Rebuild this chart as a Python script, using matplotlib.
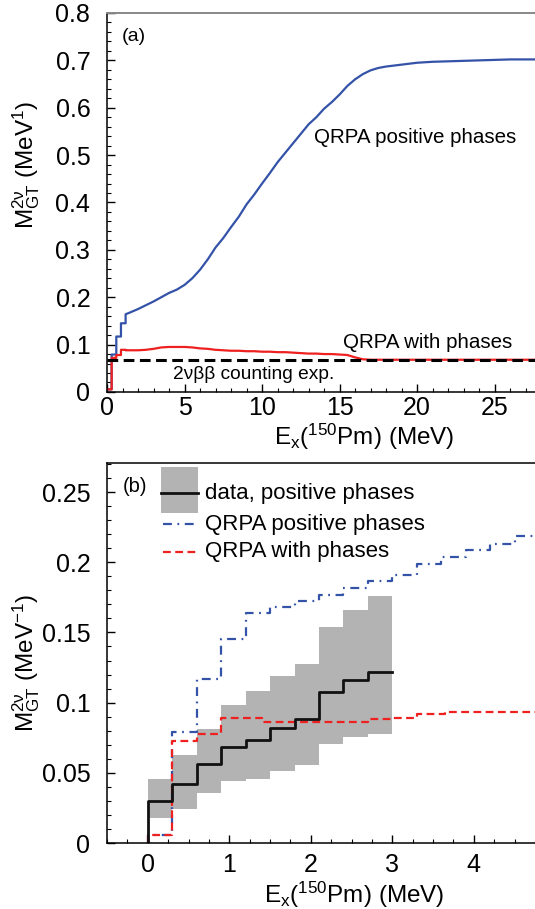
import matplotlib
matplotlib.use("Agg")
import matplotlib.pyplot as plt
from matplotlib.patches import Rectangle
from matplotlib.ticker import MultipleLocator, FuncFormatter
import numpy as np

plt.rcParams['font.family'] = ['Liberation Sans', 'DejaVu Sans']
plt.rcParams['mathtext.fontset'] = 'custom'
plt.rcParams['mathtext.rm'] = 'Liberation Sans'
plt.rcParams['mathtext.it'] = 'Liberation Sans'
plt.rcParams['mathtext.default'] = 'regular'

BLUE = '#3453a8'
RED = '#ee2020'
GREY = '#b3b3b3'

# ---- panel (a): running sum up to 27.5 MeV (jumps as repeated energies) ----
ea = [0, 0.3, 0.3, 0.6, 0.6, 0.9, 0.9, 1.2, 1.2, 1.5, 2, 2.5, 3, 3.5, 4, 4.5, 5,
      5.5, 6, 6.5, 7, 7.5, 8, 8.5, 9, 9.5, 10, 10.5, 11, 11.5, 12, 12.5, 13, 13.5,
      14, 14.5, 15, 15.5, 16, 16.5, 17, 17.5, 18, 19, 20, 21, 22, 23, 24, 25, 26, 27.6]
blue_a = [0.0055, 0.0055, 0.079, 0.079, 0.117, 0.117, 0.145, 0.145, 0.164, 0.168,
          0.175, 0.183, 0.191, 0.200, 0.209, 0.216, 0.226, 0.240, 0.258, 0.280,
          0.305, 0.325, 0.348, 0.370, 0.396, 0.417, 0.440, 0.462, 0.485, 0.505,
          0.525, 0.545, 0.565, 0.580, 0.598, 0.612, 0.628, 0.646, 0.660, 0.671,
          0.679, 0.684, 0.687, 0.691, 0.695, 0.697, 0.698, 0.699, 0.700, 0.701,
          0.702, 0.702]
red_a = [0.0055, 0.0055, 0.072, 0.072, 0.078, 0.078, 0.089, 0.089, 0.088, 0.088,
         0.088, 0.089, 0.091, 0.094, 0.095, 0.095, 0.095, 0.094, 0.092, 0.091,
         0.089, 0.088, 0.087, 0.087, 0.086, 0.086, 0.085, 0.085, 0.084, 0.084,
         0.083, 0.082, 0.081, 0.081, 0.080, 0.080, 0.079, 0.078, 0.073, 0.069,
         0.068, 0.068, 0.068, 0.068, 0.068, 0.068, 0.068, 0.068, 0.068, 0.068,
         0.068, 0.068]
counting_exp = 0.0675

# ---- panel (b): low-energy region ----
data_edges = [0, 0.3, 0.6, 0.9, 1.2, 1.5, 1.8, 2.1, 2.4, 2.7, 3.0]
data_val = [0.030, 0.0418, 0.056, 0.0686, 0.0736, 0.0817, 0.088, 0.1078, 0.116, 0.122]
data_lo = [0.018, 0.0242, 0.0358, 0.0441, 0.0456, 0.0515, 0.0558, 0.0705, 0.0757, 0.078]
data_hi = [0.0454, 0.0627, 0.081, 0.098, 0.108, 0.119, 0.1275, 0.154, 0.166, 0.176]

blue_edges = [0, 0.3, 0.6, 0.9, 1.2, 1.5, 1.8, 2.1, 2.4, 2.7, 3.0, 3.3, 3.6, 3.9, 4.2, 4.5, 4.8]
blue_b = [0.0055, 0.0788, 0.1166, 0.145, 0.1636, 0.168, 0.1726, 0.177, 0.182, 0.187,
          0.191, 0.199, 0.204, 0.2087, 0.213, 0.2187]
red_edges = [0, 0.3, 0.6, 0.9, 1.4, 2.7, 3.0, 3.3, 3.65, 4.8]
red_b = [0.0055, 0.0726, 0.0779, 0.089, 0.0864, 0.088, 0.089, 0.0919, 0.093]


def step_xy(edges, vals):
    x = np.r_[edges[0], edges]
    y = np.r_[0, vals, vals[-1]]
    return x, y


def style_axis(ax, top_color):
    for s in ['left', 'bottom']:
        ax.spines[s].set_linewidth(1.1)
    ax.spines['right'].set_visible(False)
    ax.spines['top'].set_color(top_color)
    ax.spines['top'].set_linewidth(1.4)
    ax.tick_params(which='both', direction='in', top=False, right=False, labelsize=18)
    ax.tick_params(which='major', length=6, width=1)
    ax.tick_params(which='minor', length=3, width=0.8)
    ax.yaxis.set_major_formatter(FuncFormatter(lambda v, p: f"{v:g}"))
    ax.xaxis.set_major_formatter(FuncFormatter(lambda v, p: f"{v:g}"))


fig = plt.figure(figsize=(5.35, 9.09), dpi=100)

# panel (a)
ax1 = fig.add_axes([0.2, 0.5688, 0.8, 0.4169])
ax1.plot([0, 0], [0, blue_a[0]], color=BLUE, lw=1.6)
ax1.plot(ea, blue_a, color=BLUE, lw=1.6)
ax1.plot(ea, red_a, color=RED, lw=1.6)
ax1.axhline(counting_exp, color='black', lw=2.2, ls=(0, (3.5, 1.8)), zorder=5)
ax1.set_xlim(0, 27.6)
ax1.set_ylim(0, 0.8)
ax1.xaxis.set_major_locator(MultipleLocator(5))
ax1.xaxis.set_minor_locator(MultipleLocator(1))
ax1.yaxis.set_major_locator(MultipleLocator(0.1))
ax1.yaxis.set_minor_locator(MultipleLocator(0.02))
style_axis(ax1, '#888888')
ax1.tick_params(axis='y', pad=12)
ax1.tick_params(axis='x', pad=3)
ax1.text(0.035, 0.937, '(a)', transform=ax1.transAxes, fontsize=14, va='center')
ax1.text(13.35, 0.538, 'QRPA positive phases', fontsize=14.8, va='center')
ax1.text(15.2, 0.105, 'QRPA with phases', fontsize=14.8, va='center')
ax1.text(4.26, 0.036, '2νββ counting exp.', fontsize=13.8, va='center')
ax1.set_ylabel('M$^{2\\nu}_{GT}$ (MeV$^{1}$)', fontsize=17.5)
ax1.yaxis.set_label_coords(-0.153, 0.6)
ax1.set_xlabel('E$_{x}$($^{150}$Pm) (MeV)', fontsize=17.5)
ax1.xaxis.set_label_coords(0.6, -0.08)

# panel (b)
ax2 = fig.add_axes([0.2, 0.0726, 0.8, 0.418])
lo = np.array(data_lo)
hi = np.array(data_hi)
ax2.bar(data_edges[:-1], hi - lo, bottom=lo, width=np.diff(data_edges), align='edge',
        color=GREY, lw=0)
x, y = step_xy(blue_edges, blue_b)
ax2.step(x, y, where='post', color=BLUE, lw=1.6, ls=(0, (4, 2.5, 0.8, 2.5)))
x, y = step_xy(red_edges, red_b)
ax2.step(x, y, where='post', color=RED, lw=1.6, ls=(0, (3.5, 2)))
x, y = step_xy(data_edges, data_val)
ax2.step(x, y, where='post', color='#111111', lw=2)
ax2.set_xlim(-0.5, 4.75)
ax2.set_ylim(0, 0.2707)
ax2.xaxis.set_major_locator(MultipleLocator(1))
ax2.xaxis.set_minor_locator(MultipleLocator(0.25))
ax2.yaxis.set_major_locator(MultipleLocator(0.05))
ax2.yaxis.set_minor_locator(MultipleLocator(0.01))
style_axis(ax2, 'black')
ax2.spines['top'].set_linewidth(1.1)
ax2.tick_params(axis='y', pad=12)
ax2.tick_params(axis='x', pad=7)
ax2.text(0.037, 0.937, '(b)', transform=ax2.transAxes, fontsize=14.5, va='center')

# legend drawn by hand, ROOT style
tr = ax2.transAxes
ax2.add_patch(Rectangle((0.126, 0.868), 0.087, 0.121, transform=tr, color=GREY, lw=0))
ax2.plot([0.126, 0.213], [0.921, 0.921], transform=tr, color='#111111', lw=2)
ax2.plot([0.131, 0.213], [0.839, 0.839], transform=tr, color=BLUE, lw=1.6,
         ls=(0, (4, 2.5, 0.8, 2.5)))
ax2.plot([0.131, 0.213], [0.766, 0.766], transform=tr, color=RED, lw=1.6, ls=(0, (3.5, 2)))
ax2.text(0.229, 0.921, 'data, positive phases', transform=tr, fontsize=16, va='center')
ax2.text(0.229, 0.839, 'QRPA positive phases', transform=tr, fontsize=16, va='center')
ax2.text(0.229, 0.766, 'QRPA with phases', transform=tr, fontsize=16, va='center')

ax2.set_ylabel('M$^{2\\nu}_{GT}$ (MeV$^{-1}$)', fontsize=17.5)
ax2.yaxis.set_label_coords(-0.153, 0.474)
ax2.set_xlabel('E$_{x}$($^{150}$Pm) (MeV)', fontsize=17.5)
ax2.xaxis.set_label_coords(0.577, -0.097)

fig.savefig('out.png', dpi=100)
